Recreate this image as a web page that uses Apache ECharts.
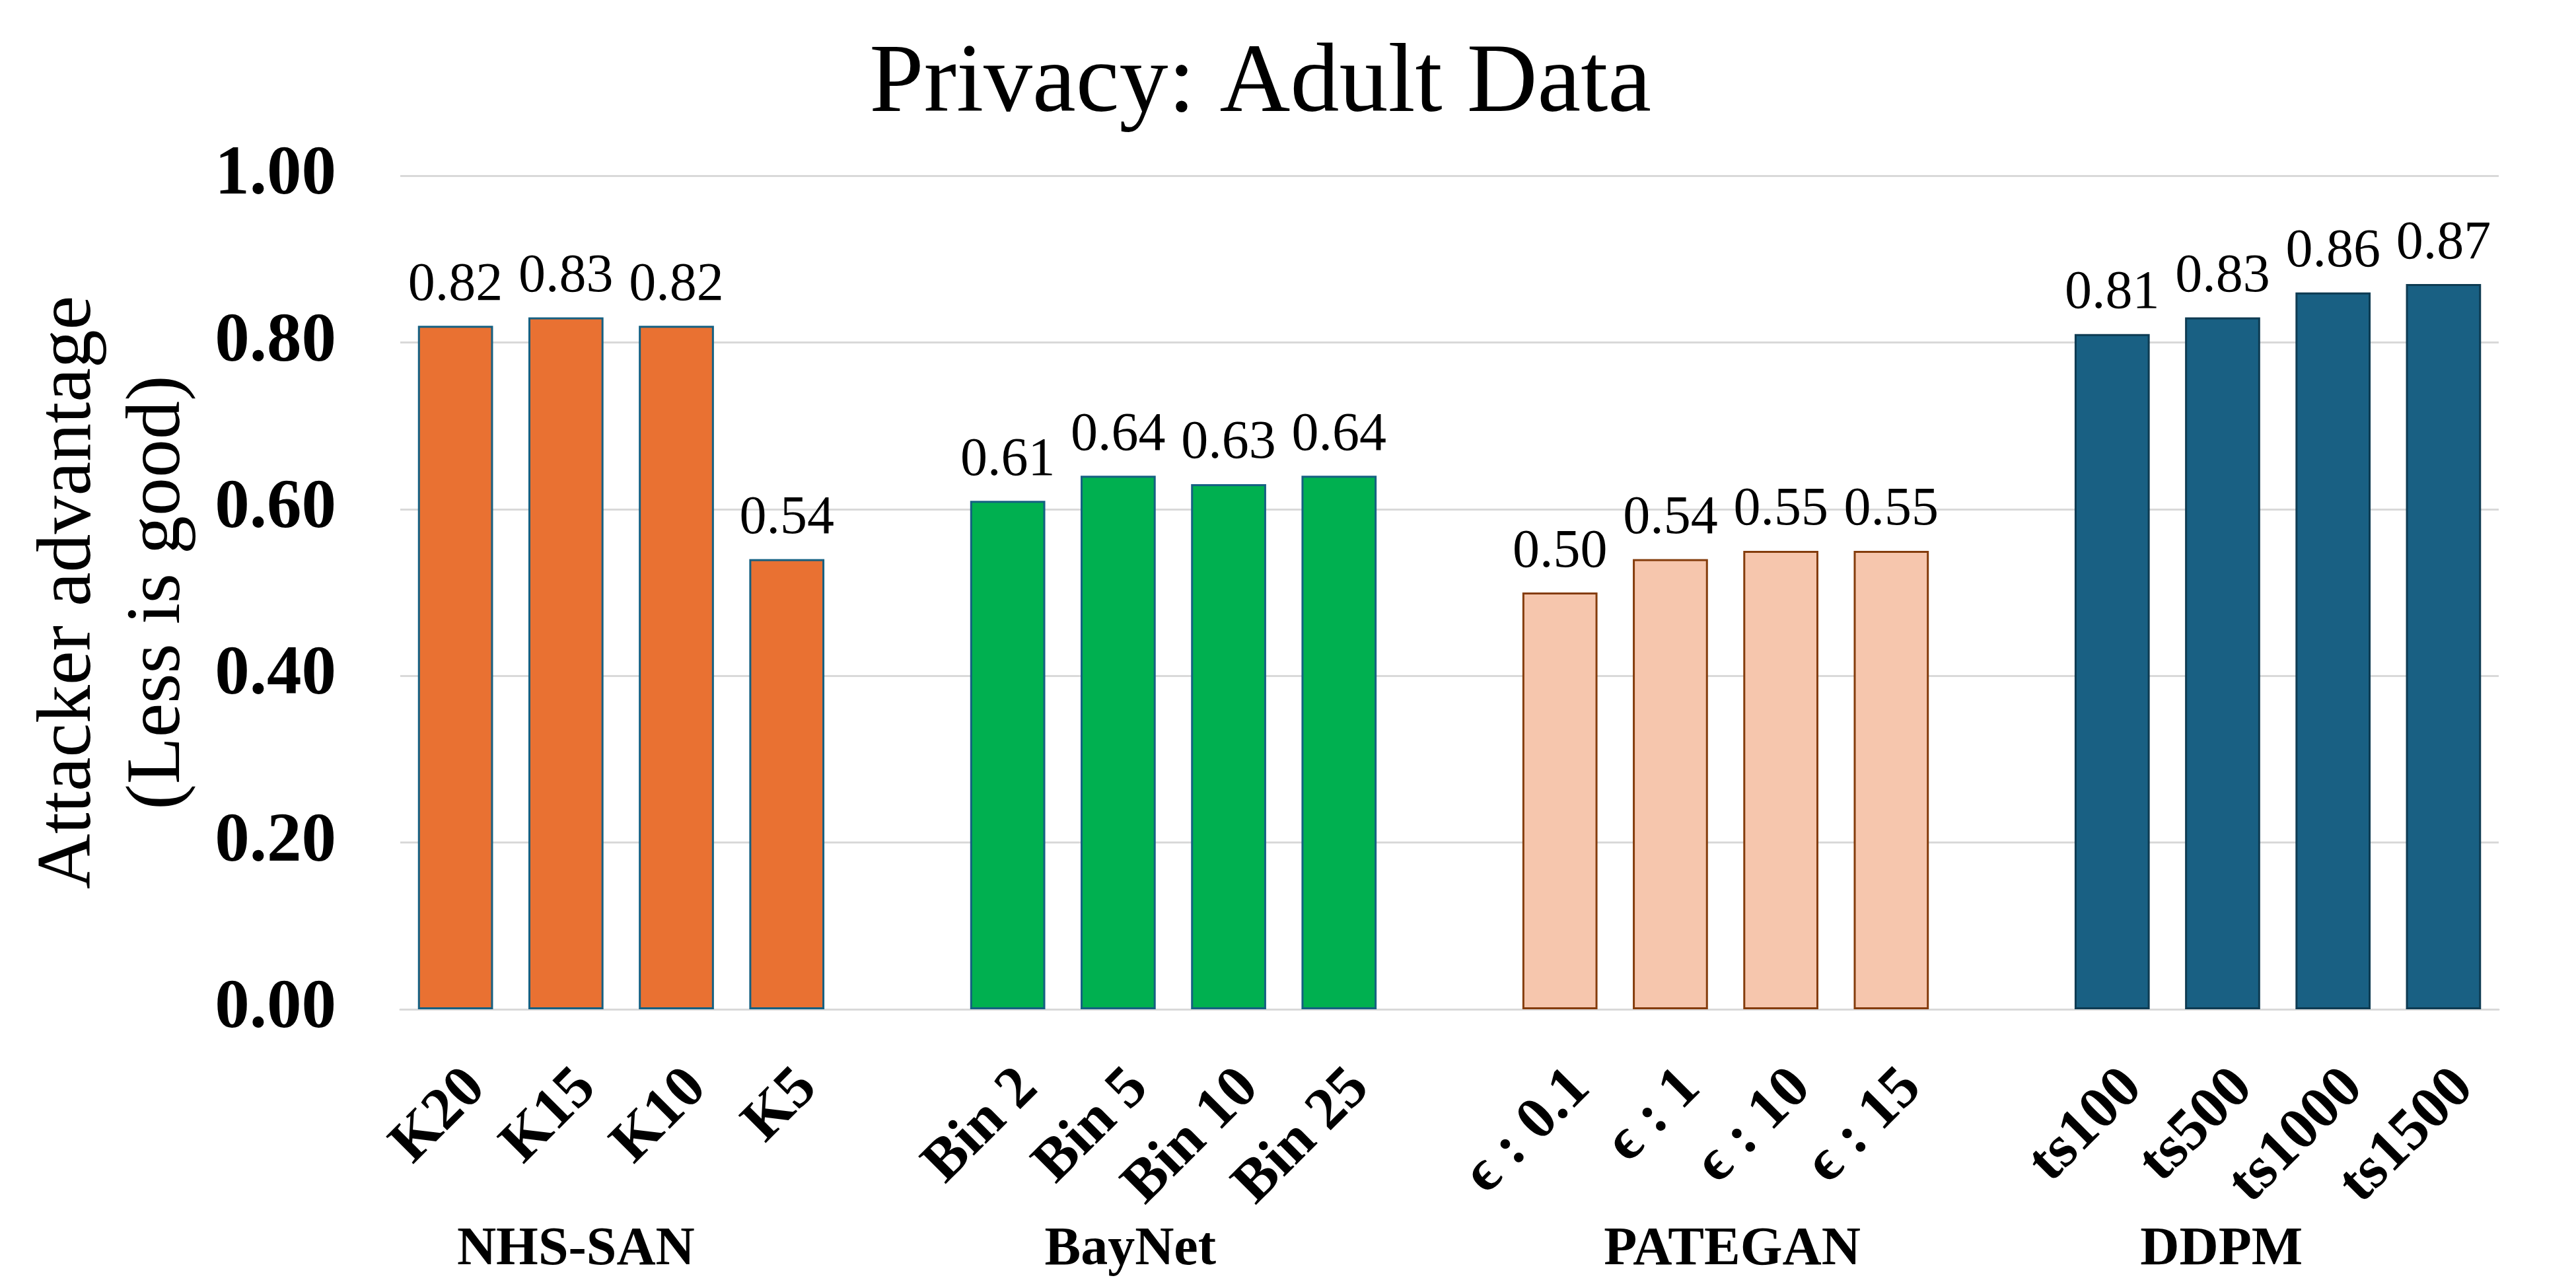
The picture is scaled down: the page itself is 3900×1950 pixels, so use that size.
<!DOCTYPE html>
<html>
<head>
<meta charset="utf-8">
<script src="https://cdn.jsdelivr.net/npm/echarts@6/dist/echarts.min.js"></script>
<style>html,body{margin:0;padding:0;background:#fff}#c{width:3900px;height:1950px}</style>
</head>
<body>
<div id="c"></div>
<script>
// ---- data ----
const groupNames = ['NHS-SAN', 'BayNet', 'PATEGAN', 'DDPM'];
const nhsLabels = ['K20', 'K15', 'K10', 'K5'];
const baynetLabels = ['Bin 2', 'Bin 5', 'Bin 10', 'Bin 25'];
const pateganLabels = ['\u03f5 : 0.1', '\u03f5 : 1', '\u03f5 : 10', '\u03f5 : 15'];
const ddpmLabels = ['ts100', 'ts500', 'ts1000', 'ts1500'];
const nhsValues = [0.82, 0.83, 0.82, 0.54];
const baynetValues = [0.61, 0.64, 0.63, 0.64];
const pateganValues = [0.50, 0.54, 0.55, 0.55];
const ddpmValues = [0.81, 0.83, 0.86, 0.87];
const yTicks = [0, 0.2, 0.4, 0.6, 0.8, 1.0];

// ---- build ----
const font = '"Liberation Serif", "Times New Roman", serif';
const groupsLabels = [nhsLabels, baynetLabels, pateganLabels, ddpmLabels];
const groupsValues = [nhsValues, baynetValues, pateganValues, ddpmValues];
const styles = [
  { color: '#E97132', borderColor: '#156082' },
  { color: '#00B050', borderColor: '#156082' },
  { color: '#F6C6AD', borderColor: '#843C0C' },
  { color: '#196083', borderColor: '#0E3B52' }
];
const categories = [];
const slotOf = [];
groupsLabels.forEach((labs, g) => {
  if (g > 0) categories.push('');
  slotOf.push(categories.length);
  labs.forEach(l => categories.push(l));
});
const series = groupsValues.map((vals, g) => {
  const d = categories.map(() => '-');
  vals.forEach((v, i) => { d[slotOf[g] + i] = v; });
  return {
    name: groupNames[g], type: 'bar', stack: 'all', data: d,
    barWidth: '68%',
    itemStyle: { color: styles[g].color, borderColor: styles[g].borderColor, borderWidth: 3 },
    label: {
      show: true, position: 'top', distance: 20,
      fontFamily: font, fontSize: 82, color: '#000',
      formatter: p => Number(p.value).toFixed(2)
    }
  };
});
// group label positions along the category slots (slot units)
const groupLabelPos = [1.59, 6.61, 12.06, 16.49];

const chart = echarts.init(document.getElementById('c'), null, { renderer: 'canvas' });
chart.setOption({
  backgroundColor: '#fff',
  animation: false,
  title: {
    text: 'Privacy: Adult Data', left: '48.8%', textAlign: 'center', top: 50,
    textStyle: { fontFamily: font, fontSize: 148, fontWeight: 'normal', color: '#000' }
  },
  grid: { left: 606, right: 117, top: 266, bottom: 422, containLabel: false },
  xAxis: [{
    type: 'category', data: categories,
    axisLine: { show: true, lineStyle: { color: '#D9D9D9', width: 3 } },
    axisTick: { show: false },
    axisLabel: {
      interval: 0, rotate: 45, margin: 74, align: 'right', verticalAlign: 'top',
      fontFamily: font, fontSize: 90, fontWeight: 'bold', color: '#000'
    }
  }, {
    type: 'value', position: 'bottom', min: 0, max: categories.length,
    axisLine: { show: false }, axisTick: { show: false }, splitLine: { show: false },
    axisLabel: {
      customValues: groupLabelPos, margin: 324,
      fontFamily: font, fontSize: 82, fontWeight: 'bold', color: '#000',
      formatter: v => { const i = groupLabelPos.indexOf(v); return i >= 0 ? groupNames[i] : ''; }
    }
  }],
  yAxis: {
    type: 'value', min: 0, max: 1, interval: 0.2,
    name: 'Attacker advantage\n(Less is good)', nameLocation: 'middle', nameGap: 298, nameRotate: 90,
    nameTextStyle: { fontFamily: font, fontSize: 116, lineHeight: 135, color: '#000' },
    axisLine: { show: false }, axisTick: { show: false },
    splitLine: { lineStyle: { color: '#D9D9D9', width: 3 } },
    axisLabel: {
      margin: 97, fontFamily: font, fontSize: 105, fontWeight: 'bold', color: '#000',
      formatter: v => v.toFixed(2)
    }
  },
  series: series
});
</script>
</body>
</html>
